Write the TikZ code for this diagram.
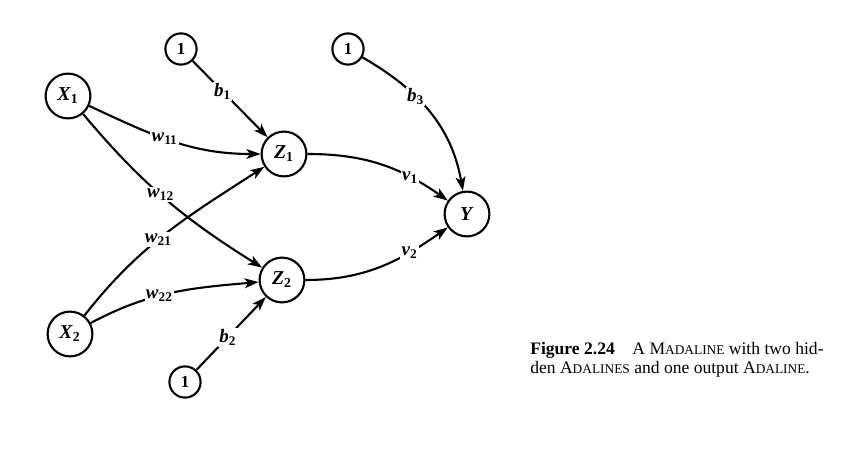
\documentclass[tikz,border=0pt]{standalone}
\usepackage{fontspec}
\setmainfont{Liberation Serif}
\usetikzlibrary{arrows.meta, positioning}

\newcommand{\lbl}[2]{\textit{#1}\textsubscript{#2}}
\newcommand{\fsc}[1]{{\fontsize{9.5}{11}\selectfont #1}}

\begin{document}
\begin{tikzpicture}[
    unit/.style={circle, draw, line width=1.5pt, minimum size=1.12cm, inner sep=0pt, font=\fontsize{14}{16}\selectfont\bfseries},
    bias/.style={circle, draw, line width=1.5pt, minimum size=0.78cm, inner sep=0pt, font=\fontsize{12}{14}\selectfont\bfseries},
    wlabel/.style={fill=white, inner sep=1pt, font=\fontsize{13.5}{15}\selectfont\bfseries},
    conn/.style={line width=1.5pt, -{Stealth[length=10pt, width=7pt, inset=2.5pt]}},
    every node/.append style={on grid}
]
\useasboundingbox (0,0) rectangle (21.45,-11.4);

% Input units
\node[unit] (X1) at (1.7,-2.4) {\lbl{X}{1}};
\node[unit, below=5.95cm of X1, xshift=0.5mm] (X2) {\lbl{X}{2}};

% Hidden Adalines
\node[unit, below right=1.45cm and 5.4cm of X1] (Z1) {\lbl{Z}{1}};
\node[unit, below=3.15cm of Z1, xshift=-0.5mm] (Z2) {\lbl{Z}{2}};
\node[bias, above right=1.175cm and 2.825cm of X1] (B1) {1};
\node[bias, below left=2.55cm and 2.425cm of Z2] (B2) {1};

% Output Adaline
\node[unit, below right=1.5cm and 4.575cm of Z1] (Y) {\textit{Y}};
\node[bias, above left=4.125cm and 2.975cm of Y] (B3) {1};

% Caption
\node[anchor=north west, align=left, inner sep=0pt, font=\fontsize{12.5}{13.8}\selectfont] (Caption) at (13.25,-8.55)
    {\textbf{Figure 2.24}\quad A M\fsc{ADALINE} with two hid-\\den A\fsc{DALINES} and one output A\fsc{DALINE}.};

% Connections
\draw[conn] (X1) to[out=-25, in=180] node[wlabel, pos=0.45] {\lbl{w}{11}} (Z1);
\draw[conn] (X1) to[out=-50, in=148] node[wlabel, pos=0.47] {\lbl{w}{12}} (Z2);
\draw[conn] (X2) to[out=52, in=213] node[wlabel, pos=0.45] {\lbl{w}{21}} (Z1);
\draw[conn] (X2) to[out=28, in=185] node[wlabel, pos=0.42] {\lbl{w}{22}} (Z2);
\draw[conn] (B1) -- node[wlabel, pos=0.4] {\lbl{b}{1}} (Z1);
\draw[conn] (B2) -- node[wlabel, pos=0.45] {\lbl{b}{2}} (Z2);
\draw[conn] (B3) to[out=-30, in=100] node[wlabel, pos=0.37] {\lbl{b}{3}} (Y);
\draw[conn] (Z1) to[out=0, in=145] node[wlabel, pos=0.72] {\lbl{v}{1}} (Y);
\draw[conn] (Z2) to[out=0, in=215] node[wlabel, pos=0.72] {\lbl{v}{2}} (Y);

\end{tikzpicture}
\end{document}
